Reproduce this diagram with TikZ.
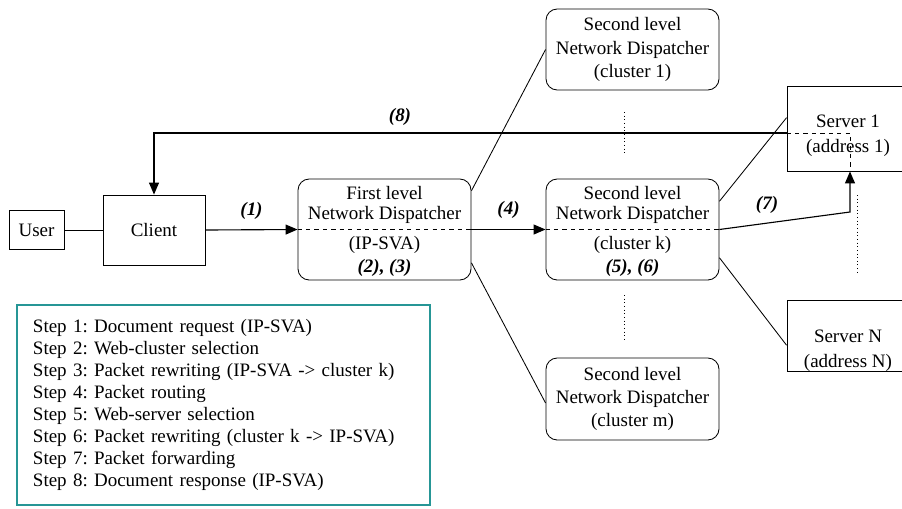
\documentclass[tikz,border=0pt]{standalone}
\usepackage{fontspec}
\setmainfont{Liberation Serif}
\usepackage{tikz}
\usetikzlibrary{arrows.meta,positioning,calc}
\definecolor{legendteal}{RGB}{38,150,150}
\frenchspacing

\begin{document}
\begin{tikzpicture}
[x=0.025cm, y=-0.025cm, font=\fontsize{13.5}{16}\selectfont,
>={Triangle[length=0.3cm,width=0.25cm]},
% STYLES
% plain boxes for the user, the client and the servers
box/.style={rectangle, draw, line width=0.6pt, inner sep=0pt},
% rounded boxes for the network dispatchers
disp/.style={rectangle, draw, line width=0.6pt, rounded corners=8pt, minimum width=4.325cm, inner sep=0pt},
% text inside the boxes
txt/.style={align=center, inner sep=0pt},
% step numbers on the arrows
stepnr/.style={font=\fontsize{13.5}{16}\selectfont\bfseries\itshape, inner sep=0pt},
legend/.style={rectangle, draw=legendteal, line width=0.8pt, minimum width=10.325cm, minimum height=5cm, inner xsep=0.4cm, text width=9.525cm, align=left, font=\fontsize{13.5}{15.6}\selectfont}]
\clip (0,0) rectangle (902,508);
% Draw boxes
\node [box, minimum width=1.375cm, minimum height=0.975cm] (user) at (36.5,230) {User};
\node [box, minimum width=2.55cm, minimum height=1.75cm] (client) at (154,230) {Client};
\node [disp, minimum height=2.525cm] (nd1) at (384.5,229.5) {};
\node [disp, minimum height=2.525cm] (ndk) at (632.5,229.5) {};
\node [disp, minimum height=2.025cm] (ndc1) at (632.5,49.5) {};
\node [disp, minimum height=2.05cm] (ndcm) at (632.5,399) {};
\node [box, minimum width=3.05cm, minimum height=2.125cm] (srv1) at (848,128.5) {};
\node [box, minimum width=3.05cm, minimum height=1.775cm] (srvn) at (848,335.5) {};
%%%%%%%%%%%%%%%
% Texts of the boxes
\node [txt, anchor=south, yshift=0.15cm] (nd1-top) at (nd1.center) {First level\\[-2pt]Network Dispatcher};
\node [txt] (nd1-addr) at (384.5,245) {(IP-SVA)};
\node [stepnr] (nd1-steps) at (384.5,268) {(2), (3)};
\node [txt, anchor=south, yshift=0.15cm] (ndk-top) at (ndk.center) {Second level\\[-2pt]Network Dispatcher};
\node [txt] (ndk-addr) at (632.5,245) {(cluster k)};
\node [stepnr] (ndk-steps) at (632.5,268) {(5), (6)};
\node [txt, font=\fontsize{13.5}{16.5}\selectfont] (ndc1-txt) at (ndc1.center) {Second level\\Network Dispatcher\\(cluster 1)};
\node [txt, font=\fontsize{13.5}{16.5}\selectfont] (ndcm-txt) at (ndcm.center) {Second level\\Network Dispatcher\\(cluster m)};
\node [txt, font=\fontsize{13.5}{17.5}\selectfont] (srv1-txt) at (848,136) {Server 1\\(address 1)};
\node [txt, font=\fontsize{13.5}{17.5}\selectfont] (srvn-txt) at (848,351) {Server N\\(address N)};
% Legend
\node [legend] (steps) at (223.5,405) {Step 1: Document request (IP-SVA)\\
Step 2: Web-cluster selection\\
Step 3: Packet rewriting (IP-SVA -> cluster k)\\
Step 4: Packet routing\\
Step 5: Web-server selection\\
Step 6: Packet rewriting (cluster k -> IP-SVA)\\
Step 7: Packet forwarding\\
Step 8: Document response (IP-SVA)};
%%%%%%%%%%%%%%%%
% Draw the links
\coordinate (c7) at (850,212);
\coordinate (c8) at (850,133);
\draw [dashed, line width=0.6pt] (nd1.west) -- (nd1.east);
\draw [dashed, line width=0.6pt] (ndk.west) -- (ndk.east);
\draw [dashed, line width=0.6pt] (c8 -| srv1.west) -- (c8) -- (c8 |- srv1.south);
\path [line width=0.6pt]
(user) edge (client)
(nd1.24) edge (ndc1.west)
(nd1.-21) edge ([yshift=-0.1cm]ndcm.west)
(ndk.18) edge (srv1.170)
(ndk.-18) edge (srvn.189);
\draw [->, thick] (client.east) -- node [stepnr, above=0.25cm] (s1) {(1)} (nd1.west);
\draw [->, thick] (nd1.east) -- node [stepnr, above=0.25cm] (s4) {(4)} (ndk.west);
\draw [->, thick] (ndk.east) -- (c7) -- (c7 |- srv1.south);
\draw [->, thick] (c8 -| srv1.west) -- (c8 -| client.north) -- (client.north);
\node [stepnr] (s7) at (767,205) {(7)};
\node [stepnr] (s8) at (400,117) {(8)};
% dots between the clusters and the servers
\draw [dotted, line width=0.6pt] (624,112) -- (624,155);
\draw [dotted, line width=0.6pt] (624,295) -- (624,342);
\draw [dotted, line width=0.6pt] (857,195) -- (857,275);
\end{tikzpicture}
\end{document}
